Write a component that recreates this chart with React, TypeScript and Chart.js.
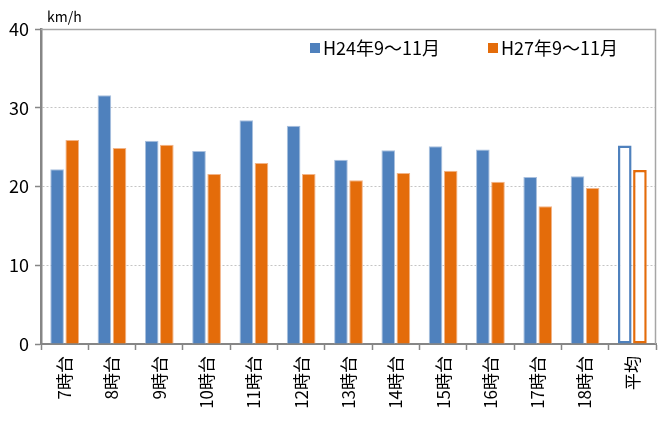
import React, { useEffect, useRef } from "react";
import { Chart, registerables } from "chart.js";
Chart.register(...registerables);

const categories = ["7時台", "8時台", "9時台", "10時台", "11時台", "12時台", "13時台", "14時台", "15時台", "16時台", "17時台", "18時台", "平均"];
const h24 = [22.2, 31.6, 25.8, 24.5, 28.4, 27.7, 23.4, 24.6, 25.1, 24.7, 21.2, 21.3, 25.2];
const h27 = [25.9, 24.9, 25.3, 21.6, 23.0, 21.6, 20.8, 21.7, 22.0, 20.6, 17.5, 19.8, 22.1];
const seriesLabels = ["H24年9～11月", "H27年9～11月"];
const unitLabel = "km/h";
const yMin = 0;
const yMax = 40;
const yStep = 10;

const BLUE = "#4F81BD";
const ORANGE = "#E46C0A";
const FONT = "'Noto Sans CJK JP', 'Noto Sans', sans-serif";

const avgIndex = categories.length - 1;

function makeDataset(label: string, data: number[], color: string, edge: string) {
  return {
    label,
    data,
    backgroundColor: (ctx: any) => (ctx.dataIndex === avgIndex ? "#FFFFFF" : color),
    borderColor: (ctx: any) => (ctx.dataIndex === avgIndex ? color : edge),
    borderWidth: (ctx: any) => (ctx.dataIndex === avgIndex ? 2.5 : 1),
    borderSkipped: (ctx: any) => (ctx.dataIndex === avgIndex ? false : "start"),
    categoryPercentage: 0.64,
    barPercentage: 0.9,
  };
}

const decorPlugin = {
  id: "decor",
  afterDraw(chart: any) {
    const { ctx, chartArea } = chart;
    ctx.save();
    ctx.strokeStyle = "#A6A6A6";
    ctx.lineWidth = 1.5;
    ctx.beginPath();
    ctx.moveTo(chartArea.left, chartArea.top + 0.5);
    ctx.lineTo(chartArea.right - 0.5, chartArea.top + 0.5);
    ctx.lineTo(chartArea.right - 0.5, chartArea.bottom);
    ctx.stroke();
    ctx.fillStyle = "#000";
    ctx.font = `14px ${FONT}`;
    ctx.textBaseline = "middle";
    ctx.textAlign = "left";
    ctx.fillText(unitLabel, 47, 17);
    const colors = [BLUE, ORANGE];
    const xs = [310, 488];
    ctx.font = `18px ${FONT}`;
    chart.data.datasets.forEach((ds: any, i: number) => {
      ctx.fillStyle = colors[i];
      ctx.fillRect(xs[i], 43, 10, 10);
      ctx.fillStyle = "#000";
      ctx.fillText(ds.label, xs[i] + 13, 48);
    });
    ctx.restore();
  },
};

export default function App() {
  const ref = useRef<HTMLCanvasElement | null>(null);
  useEffect(() => {
    if (!ref.current) return;
    const chart = new Chart(ref.current, {
      type: "bar",
      data: {
        labels: categories,
        datasets: [
          makeDataset(seriesLabels[0], h24, BLUE, "#A9C0DE"),
          makeDataset(seriesLabels[1], h27, ORANGE, "#F2B488"),
        ] as any,
      },
      options: {
        animation: false,
        responsive: false,
        layout: { padding: { top: 29, right: 7, left: 0, bottom: 0 } },
        plugins: {
          legend: { display: false },
          tooltip: { enabled: false },
        },
        scales: {
          x: {
            afterFit: (s: any) => {
              s.height = 78;
            },
            grid: {
              offset: true,
              drawOnChartArea: false,
              drawTicks: true,
              tickLength: 6,
              tickColor: "#868686",
              tickWidth: 1.5,
            },
            border: { color: "#868686", width: 2 },
            ticks: {
              autoSkip: false,
              minRotation: 90,
              maxRotation: 90,
              padding: 6,
              color: "#000",
              font: { family: FONT, size: 17 },
            },
          },
          y: {
            min: yMin,
            max: yMax,
            afterFit: (s: any) => {
              s.width = 41;
            },
            grid: {
              color: "#C4C4C4",
              drawTicks: true,
              tickLength: 6,
              tickColor: "#868686",
              tickBorderDash: [],
              tickWidth: 1.5,
            },
            border: { color: "#868686", width: 2.5, dash: [2, 2] },
            ticks: {
              stepSize: yStep,
              padding: 6,
              color: "#000",
              font: { family: FONT, size: 18 },
            },
          },
        },
      },
      plugins: [decorPlugin],
    });
    return () => chart.destroy();
  }, []);
  return (
    <div style={{ position: "fixed", left: 0, top: 0, width: 663, height: 422, background: "#fff" }}>
      <canvas ref={ref} width={663} height={422} style={{ width: 663, height: 422 }} />
    </div>
  );
}
